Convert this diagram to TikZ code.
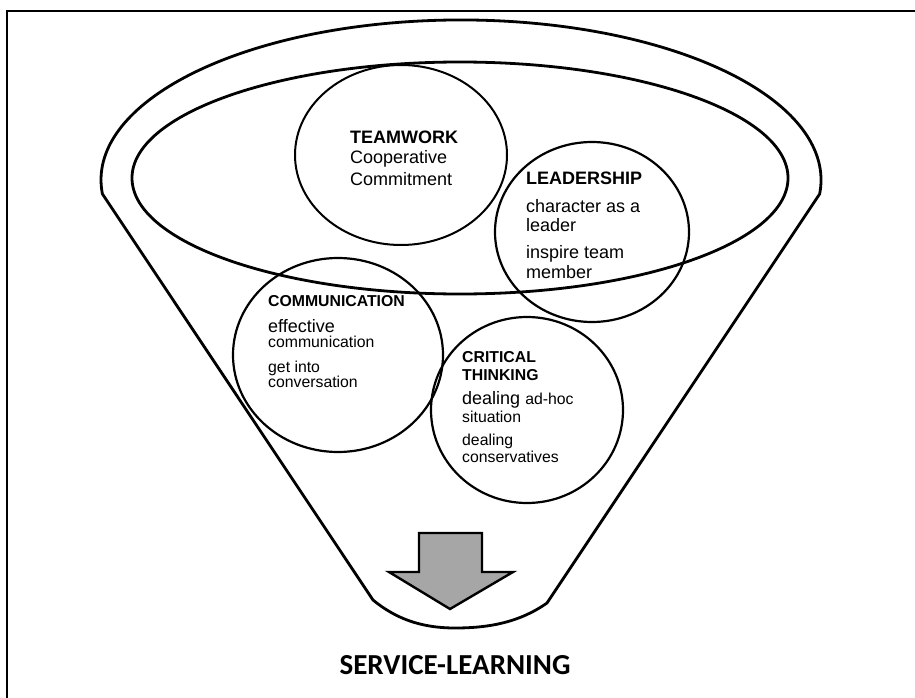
\documentclass[tikz,border=0pt]{standalone}
\usepackage{fontspec}
\setmainfont{Liberation Sans}
\newfontfamily\calibrifont{Carlito}
\usetikzlibrary{shapes.geometric}
\definecolor{arrowgray}{HTML}{A6A6A6}
\begin{document}
\begin{tikzpicture}[x=1pt,y=1pt,
  funnelline/.style={line width=2.8pt,line join=round},
  bubble/.style={draw,ellipse,line width=2.2pt,inner sep=0pt},
  txt/.style={anchor=base west,inner sep=0pt},
  bigt/.style={txt,font=\fontsize{18}{21}\selectfont},
  bigb/.style={txt,font=\fontsize{18}{21}\selectfont\bfseries},
  smallt/.style={txt,font=\fontsize{15.8}{19}\selectfont},
  smallb/.style={txt,font=\fontsize{15.8}{19}\selectfont\bfseries}]
\useasboundingbox (0,0) rectangle (915,-698);
% frame
\draw[line width=2pt] (7,-698) -- (7,-11) -- (915,-11);
% funnel
\draw[funnelline] (102.4,-193.9) arc[start angle=185,end angle=-5,x radius=360,y radius=160]
  -- (547,-603) .. controls (520,-622) and (490,-628) .. (455,-628)
  .. controls (420,-628) and (395,-618) .. (373,-600) -- cycle;
\draw[funnelline] (460,-178) ellipse [x radius=328,y radius=116];
% bubbles
\node[bubble,line width=2pt,minimum width=212pt,minimum height=180pt] (team) at (401,-155) {};
\node[bubble,minimum width=194pt,minimum height=180pt] (lead) at (592,-232) {};
\node[bubble,minimum width=210pt,minimum height=194pt] (comm) at (338,-355) {};
\node[bubble,minimum width=192pt,minimum height=186pt] (crit) at (527,-410) {};
% teamwork text
\node[bigb] (t1) at (350,-143) {TEAMWORK};
\node[bigt] (t2) at (350,-164) {Cooperative};
\node[bigt] (t3) at (350,-185) {Commitment};
% leadership text
\node[bigb] (l1) at (526,-184) {LEADERSHIP};
\node[bigt] (l2) at (526,-212) {character as a};
\node[bigt] (l3) at (526,-231) {leader};
\node[bigt] (l4) at (526,-258) {inspire team};
\node[bigt] (l5) at (526,-278) {member};
% communication text
\node[smallb] (c1) at (268,-306) {COMMUNICATION};
\node[bigt] (c2) at (268,-332) {effective};
\node[smallt] (c3) at (268,-347) {communication};
\node[smallt] (c4) at (268,-372) {get into};
\node[smallt] (c5) at (268,-387) {conversation};
% critical thinking text
\node[smallb] (k1) at (462,-362) {CRITICAL};
\node[smallb] (k2) at (462,-380) {THINKING};
\node[txt] (k3) at (462,-404) {\fontsize{18}{21}\selectfont dealing \fontsize{15.8}{19}\selectfont ad-hoc};
\node[smallt] (k4) at (462,-422) {situation};
\node[smallt] (k5) at (462,-445) {dealing};
\node[smallt] (k6) at (462,-462) {conservatives};
% arrow
\draw[line width=2.4pt,fill=arrowgray,line join=miter]
  (419,-533) -- (482,-533) -- (482,-572) -- (513,-572) -- (450,-609)
  -- (389,-572) -- (419,-572) -- cycle;
% output
\node[anchor=base,inner sep=0pt,font=\calibrifont\fontsize{29}{32}\selectfont\bfseries] (out) at (455,-674) {SERVICE-LEARNING};
\end{tikzpicture}
\end{document}
